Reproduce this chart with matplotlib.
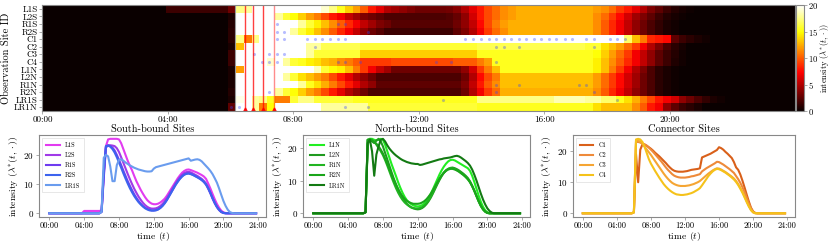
import matplotlib
matplotlib.use("Agg")
import matplotlib.pyplot as plt
import numpy as np

plt.rcParams['font.family'] = 'serif'
plt.rcParams['font.serif'] = ['cmr10']
plt.rcParams['mathtext.fontset'] = 'cm'
plt.rcParams['axes.unicode_minus'] = False
plt.rcParams['axes.formatter.use_mathtext'] = True

sites = ["L1S", "L2S", "R1S", "R2S", "C1", "C2", "C3", "C4",
         "L1N", "L2N", "R1N", "R2N", "LR1S", "LR1N"]

# ---------------- heatmap rows (97 time points, 00:00 .. 24:00 every 15 min)
def row(start, vals, n=97):
    return [0] * start + vals + [0] * (n - start - len(vals))

hm_L1S = row(16, [1.5] * 8 + [3, 17.5, 18] + [21] * 9 +
             [19, 17.5, 15.5, 13.5, 12, 10, 8, 6.5, 5, 4.5, 4, 3.5, 3, 3, 3, 3, 3.2, 3.8, 5, 6.5,
              8, 9.5, 10.5, 11.5, 12] + [12.5] * 10 +
             [12, 11.5, 10.5, 9, 8, 6.5, 5, 3.5, 2.5, 1.5, 0.8, 0.4, 0.2])
hm_L2S = row(24, [0.6] + [20] * 5 +
             [18, 16, 15, 13.5, 12, 11, 9.5, 8, 7, 5.5, 4.5, 3.5, 3, 2.5] + [2] * 8 +
             [2.2, 2.8, 4, 6, 8, 9.5, 10.5, 11.5, 12] + [12.5] * 10 +
             [11.5, 10.5, 9, 7.5, 6, 4.5, 3.5, 2.5, 1.5, 0.8, 0.4, 0.2])
hm_R1S = row(24, [0.8] + [21] * 8 +
             [18, 16, 14.5, 13, 11.5, 10, 8.5, 7, 5.5, 4.5, 3.5, 3] + [2.3] * 8 +
             [3, 4, 5.5, 7.5, 9.5, 11, 12] + [12.5] * 11 +
             [11.5, 10, 8.5, 7, 5.5, 4, 3, 2, 1.2, 0.6, 0.3])
hm_R2S = row(24, [1] + [21] * 7 +
             [18, 16, 14.5, 13, 11.5, 10, 8.5, 7, 5.5, 4, 3, 2.3] + [1.5] * 9 +
             [2.5, 3.5, 5, 7, 9, 10.5, 11.5] + [12.5] * 11 +
             [11.5, 10, 8.5, 7, 5.5, 4, 3, 2, 1.2, 0.6, 0.3])
hm_C1 = row(24, [1, 17.5, 11, 17.5] + [21] * 47 +
            [17, 13, 11, 8.5, 8, 7.5, 2.5, 1.5, 1, 0.6, 0.3])
hm_C2 = row(24, [0.5, 13] + [21] * 8 + [18, 18] + [16.5] * 5 + [16] * 15 + [16.5] * 14 +
            [16, 16, 14, 13, 12, 10.5, 9, 7, 5, 3.5, 2, 1, 0.4])
hm_C3 = row(24, [1.5] + [21] * 9 + [18] + [16] * 6 + [13.5] * 15 + [15.5] * 15 +
            [15, 13.5, 12, 10.5, 9, 7, 5.5, 4, 2.5, 1.5, 0.8, 0.3])
hm_C4 = row(24, [1.5, 21, 21, 21, 21, 19, 21, 18, 16, 15.5, 14.5, 14, 13, 12.5, 11.5, 11, 10] +
            [9] * 4 + [9.5] * 8 + [10] * 3 + [11, 12] + [15.5] * 13 +
            [14.5, 13, 11.5, 10, 8.5, 7, 5.5, 4, 2.5, 1.5, 0.7, 0.3])
hm_L1N = row(24, [0.5, 12] + [21] * 9 +
             [18.5, 16, 15, 14.5, 13, 11, 9, 7, 5.5, 4.5] + [3] * 9 +
             [4, 6, 9, 11, 13] + [15.5] * 12 +
             [14.5, 13, 11, 9, 7, 5, 3.5, 2, 1, 0.5, 0.2])
hm_L2N = row(24, [0.5] + [21] * 6 +
             [18, 16, 14, 13, 12, 11, 9.5, 8, 6.5, 5, 4, 3] + [2] * 11 +
             [3, 5, 7.5, 9.5, 11] + [13] * 12 +
             [12, 10.5, 9, 7.5, 6, 4.5, 3, 2, 1, 0.5, 0.2])
hm_R1N = row(24, [0.5] + [21] * 8 +
             [18, 15.5, 14, 12.5, 11, 9.5, 8, 6.5, 5, 4] + [2.5] * 11 +
             [3.5, 5.5, 8, 10, 11.5] + [13] * 12 +
             [12, 10.5, 9, 7.5, 6, 4.5, 3, 2, 1, 0.5, 0.2])
hm_R2N = row(24, [0.8] + [21] * 5 +
             [18, 16, 15, 13.5, 12, 11, 9.5, 8, 6.5, 5, 4, 3] + [2] * 12 +
             [3, 5, 7, 9, 10.5] + [12.5] * 12 +
             [11.5, 10, 8.5, 7, 5.5, 4, 3, 2, 1, 0.5, 0.2])
hm_LR1S = row(24, [0.5, 19.5, 20.5, 18, 17.5, 15.5, 11, 11, 16, 17.5, 17.5] + [16] * 5 +
              [15.5] * 16 + [17.5] * 10 + [18.5] * 4 + [18, 18, 17, 17] +
              [15.5, 14, 12.5, 11, 9.5, 8, 7, 6, 4, 3, 2, 1.2, 0.6, 0.3])
hm_LR1N = row(24, [2.5, 21, 21, 18, 11, 15] + [21] * 6 + [18] * 6 + [16] * 14 +
              [15.5] * 15 + [14, 13, 13, 13, 13, 11.5, 10, 8, 7, 4, 2.5, 1.5, 1, 0.5])

# observation markers (site row, time in hours)
obs_row = [2, 2, 2, 3, 3, 3] + [4] * 28 + [5] * 5 + [6] * 4 + [7] * 9 + \
          [10] * 4 + [11] * 3 + [12] * 2 + [13] * 4
obs_time = [7.48, 9.41, 9.66,
            7.48, 7.71, 10.37,
            7.48, 7.71, 8.44, 8.68, 8.92, 9.18, 9.41, 9.66, 13.49, 13.73, 13.99, 14.23,
            14.47, 14.71, 14.95, 15.19, 15.43, 15.67, 15.91, 16.16, 16.39, 16.65, 16.89,
            17.35, 17.58, 18.09, 18.33, 18.57,
            8.68, 14.47, 14.71, 15.19, 17.58,
            6.75, 7.24, 7.48, 7.71,
            7.0, 7.24, 7.48, 9.41, 9.66, 10.13, 12.55, 13.03, 14.47,
            14.47, 15.19, 17.10, 17.35,
            7.24, 14.47, 17.58,
            12.77, 18.33,
            6.01, 6.27, 9.66, 10.37]

event_times = [6.46, 6.70, 7.02, 7.38]
event_alpha = [0.75, 0.75, 0.75, 0.45]

# ---------------- line series (96 points, 00:00 .. 23:45 every 15 min)
def series(start, vals, n=96):
    return [0] * start + vals + [0] * (n - start - len(vals))

L1S = series(16, [0.8] * 8 + [1.0, 14, 23, 25.3, 25.5, 25.5, 25.5, 25.5, 25.3, 24, 22, 20, 18, 16.3,
                  14.7, 12.8, 11, 9.5, 8, 6.7, 5.5, 4.5, 3.8, 3.3, 3.1, 3.1, 3.3, 3.7, 4.3, 5, 6,
                  7.2, 8.4, 9.6, 10.8, 12, 13, 13.9, 14.5, 14.9, 15, 14.8, 14.5, 14.2, 13.9, 13.5,
                  13.1, 12.6, 11.8, 10.2, 8.5, 6.6, 4.8, 3.2, 1.9, 0.9, 0.3, 0.1])
L2S = series(24, [0.5, 12, 22.5, 23.3, 23.3, 23.2, 23, 22.3, 21, 19.2, 17.3, 15.4, 13.5, 11.7, 10,
                  8.4, 7, 5.7, 4.6, 3.6, 2.8, 2.2, 1.8, 1.6, 1.6, 1.7, 2, 2.5, 3.2, 4.1, 5.2, 6.4,
                  7.7, 9, 10.3, 11.4, 12.4, 13.2, 13.8, 14.1, 14.2, 14, 13.6, 13.2, 12.8, 12.3,
                  11.8, 11.1, 10.2, 8.8, 7.1, 5.3, 3.7, 2.3, 1.2, 0.5, 0.2])
R1S = series(24, [0.5, 13, 22.8, 23.2, 23, 22.5, 21.5, 20, 18.3, 16.5, 14.6, 12.8, 11, 9.4, 7.9,
                  6.5, 5.3, 4.2, 3.3, 2.5, 1.9, 1.5, 1.2, 1.0, 1.0, 1.1, 1.4, 1.9, 2.6, 3.5, 4.6,
                  5.9, 7.2, 8.5, 9.8, 10.9, 11.9, 12.7, 13.3, 13.6, 13.7, 13.5, 13.2, 12.8, 12.4,
                  11.9, 11.4, 10.7, 9.8, 8.4, 6.8, 5.0, 3.4, 2.1, 1.1, 0.4, 0.1])
R2S = series(24, [0.5, 14, 23, 23.2, 22.8, 22, 20.8, 19.2, 17.4, 15.6, 13.7, 11.9, 10.2, 8.6, 7.2,
                  5.9, 4.8, 3.8, 3.0, 2.3, 1.7, 1.3, 1.0, 0.9, 0.9, 1.0, 1.3, 1.8, 2.5, 3.4, 4.5,
                  5.8, 7.1, 8.4, 9.7, 10.8, 11.8, 12.6, 13.2, 13.5, 13.6, 13.4, 13.1, 12.7, 12.3,
                  11.9, 11.4, 10.8, 9.9, 8.6, 7.0, 5.2, 3.6, 2.2, 1.2, 0.5, 0.1])
LR1S = series(24, [0.5, 19, 20, 19.5, 16, 11, 11, 16.5, 18.3, 18.5, 18, 17.4, 16.9, 16.4, 16, 15.6,
                   15.3, 15, 14.8, 14.6, 14.4, 14.3, 14.3, 14.4, 15.3, 15.8, 16.0, 16.2, 16.4,
                   16.6, 16.8, 17.0, 17.2, 17.4, 17.6, 17.8, 18.0, 18.2, 18.4, 18.6, 18.8, 18.0,
                   18.2, 18.4, 18.5, 18.3, 17.8, 17.0, 16.2, 15.4, 14.5, 13.4, 12.0, 10.5, 8.5,
                   6.3, 4.2, 2.5, 1.2, 0.4, 0.1])

L1N = series(24, [0.3, 21, 22.8, 22.8, 22.5, 22.3, 22.5, 22.8, 22.5, 21, 19, 17, 15, 13.2, 11.4,
                  9.5, 7.8, 6.3, 5, 4, 3.3, 2.8, 2.4, 2.2, 2.1, 2.2, 2.5, 3.0, 3.8, 4.8, 6.0, 7.4,
                  8.9, 10.4, 11.9, 13.2, 14.3, 15.2, 15.9, 16.3, 16.4, 16.2, 15.8, 15.4, 15.0,
                  14.6, 14.2, 13.8, 13.0, 11.5, 9.6, 7.5, 5.4, 3.5, 2.0, 0.9, 0.3])
L2N = series(24, [0.3, 22.5, 22.5, 22, 21.5, 22.3, 22.8, 22, 20.5, 18.5, 16.5, 14.5, 12.5, 10.6,
                  8.9, 7.3, 5.9, 4.7, 3.7, 2.9, 2.3, 1.8, 1.5, 1.3, 1.2, 1.3, 1.6, 2.1, 2.8, 3.7,
                  4.8, 6.1, 7.5, 8.9, 10.2, 11.4, 12.4, 13.1, 13.6, 13.9, 14.0, 13.8, 13.5, 13.1,
                  12.6, 12.1, 11.5, 10.8, 9.8, 8.5, 7.0, 5.3, 3.7, 2.3, 1.2, 0.5, 0.1])
R1N = series(24, [0.3, 22.5, 22.8, 22.5, 22, 21, 20, 19, 17.8, 16.3, 14.6, 12.8, 11, 9.3, 7.7, 6.3,
                  5.1, 4.1, 3.3, 2.7, 2.2, 1.8, 1.6, 1.5, 1.5, 1.6, 1.9, 2.4, 3.1, 4.0, 5.1, 6.4,
                  7.8, 9.2, 10.5, 11.6, 12.5, 13.2, 13.6, 13.8, 13.8, 13.6, 13.2, 12.8, 12.3,
                  11.8, 11.2, 10.5, 9.6, 8.3, 6.8, 5.2, 3.6, 2.2, 1.2, 0.5, 0.1])
R2N = series(24, [0.3, 22.5, 22.5, 22.3, 21.8, 21.3, 20.5, 19.5, 18.3, 16.8, 15.2, 13.5, 11.8,
                  10.2, 8.7, 7.4, 6.2, 5.2, 4.4, 3.8, 3.4, 3.1, 2.9, 2.9, 2.9, 3.0, 3.3, 3.7, 4.3,
                  5.1, 6.0, 7.1, 8.3, 9.5, 10.6, 11.6, 12.4, 13.0, 13.4, 13.6, 13.6, 13.4, 13.1,
                  12.7, 12.2, 11.7, 11.1, 10.4, 9.5, 8.3, 6.9, 5.3, 3.7, 2.3, 1.2, 0.5, 0.1])
LR1N = series(24, [0.3, 21.5, 22.5, 19, 11.5, 18, 20.5, 22.5, 22.8, 22, 20.8, 19.8, 19, 18.3,
                   17.7, 17.2, 16.7, 16.3, 16.0, 15.7, 15.5, 15.3, 15.2, 15.1, 15.1, 14.8, 14.9,
                   15.1, 15.3, 15.5, 15.7, 15.9, 16.1, 16.3, 16.5, 16.6, 16.8, 16.9, 17.0, 17.1,
                   17.3, 17.5, 17.6, 17.4, 17.0, 16.5, 16.0, 15.4, 14.6, 13.4, 11.8, 10.0, 8.0,
                   6.0, 4.2, 2.7, 1.5, 0.7, 0.2])

C1 = series(24, [0.3, 19, 10, 20.5, 22.2, 22.2, 21.8, 21.3, 20.8, 20.2, 19.5, 18.9, 18.3, 17.6,
                 16.9, 16.2, 15.4, 14.7, 14.1, 13.7, 13.5, 13.4, 13.4, 13.4, 13.5, 13.6, 13.8,
                 14.0, 14.1, 14.2, 14.3, 14.5, 18.0, 18.3, 18.6, 18.9, 19.2, 19.6, 20.0, 20.4,
                 21.3, 21.0, 20.5, 19.8, 19.2, 18.5, 17.8, 16.5, 14.8, 14.0, 12.5, 10.5, 8.3,
                 6.0, 3.8, 1.8, 0.6, 0.1])
C2 = series(24, [0.3, 23, 23, 22.8, 22.5, 22.2, 21.8, 21.2, 20.5, 19.8, 19.0, 18.2, 17.4, 16.6,
                 15.7, 14.8, 14.0, 13.3, 12.6, 12.1, 11.8, 11.6, 11.5, 11.5, 11.5, 11.6, 11.7,
                 11.9, 12.0, 12.2, 12.4, 12.6, 13.5, 14.0, 14.5, 14.9, 15.3, 15.7, 16.1, 16.6,
                 16.5, 16.1, 15.7, 15.2, 14.7, 14.2, 13.6, 13.0, 12.0, 11.0, 9.8, 8.4, 6.8, 5.0,
                 3.2, 1.6, 0.5, 0.1])
C3 = series(24, [0.3, 23.5, 23.5, 23.0, 22.3, 21.5, 20.6, 19.7, 18.8, 17.8, 16.8, 15.8, 14.8,
                 13.8, 12.8, 11.9, 11.1, 10.4, 9.8, 9.4, 9.1, 8.9, 8.8, 8.8, 8.8, 8.9, 9.0, 9.2,
                 9.4, 9.7, 10.0, 10.4, 11.0, 11.6, 12.2, 12.8, 13.3, 13.8, 14.2, 14.5, 14.4,
                 14.1, 13.7, 13.3, 12.8, 12.3, 11.8, 11.2, 10.4, 9.4, 8.2, 6.9, 5.4, 3.8, 2.3,
                 1.1, 0.3])
C4 = series(24, [0.3, 23.8, 24.0, 23.8, 23.0, 21.5, 19.5, 17.5, 16.0, 14.8, 13.6, 12.5, 11.4,
                 10.4, 9.4, 8.6, 7.9, 7.3, 6.8, 6.4, 6.1, 6.0, 5.9, 5.9, 6.0, 6.1, 6.3, 6.5, 6.8,
                 7.2, 7.6, 8.1, 9.0, 10.0, 11.0, 12.0, 12.8, 13.5, 14.0, 14.3, 14.2, 13.9, 13.5,
                 13.1, 12.6, 12.1, 11.5, 10.9, 10.1, 9.1, 7.9, 6.6, 5.1, 3.6, 2.2, 1.0, 0.3])

south_names = ["L1S", "L2S", "R1S", "R2S", "LR1S"]
north_names = ["L1N", "L2N", "R1N", "R2N", "LR1N"]
conn_names = ["C1", "C2", "C3", "C4"]
south_colors = ["#e23cf0", "#a13ae8", "#6f3cf0", "#3d63ee", "#6a9cee"]
north_colors = ["#22ee22", "#1f9a1f", "#22b422", "#1aa51a", "#137a13"]
conn_colors = ["#d9601a", "#ee8a3a", "#f5a533", "#f5c21a"]

hours = np.arange(96) * 0.25
hour_ticks = [0, 4, 8, 12, 16, 20, 24]
hour_labels = ["%02d:00" % h for h in hour_ticks]
frame = "#888888"

fig = plt.figure(figsize=(8.3, 2.43), dpi=100)

# ---------------- heatmap
ax = fig.add_axes([0.0512, 0.543, 0.9066, 0.436])
heat = np.array([hm_L1S, hm_L2S, hm_R1S, hm_R2S, hm_C1, hm_C2, hm_C3, hm_C4,
                 hm_L1N, hm_L2N, hm_R1N, hm_R2N, hm_LR1S, hm_LR1N])
im = ax.imshow(heat, cmap="hot", vmin=0, vmax=20, aspect="auto",
               extent=[0, 24, len(sites), 0], interpolation="nearest")
ax.axvline(6.14, color="#999999", lw=0.8)
for t, a in zip(event_times, event_alpha):
    ax.axvline(t, color="red", lw=1.0, alpha=a)
    ax.plot(t, 13.8, marker="^", color="red", ms=3.5, alpha=0.9)
ax.scatter(obs_time, np.array(obs_row) + 0.5, s=5, color="#3344ff", alpha=0.35, lw=0)
ax.set_xlim(0, 24)
ax.set_ylim(len(sites), 0)
ax.set_yticks(np.arange(len(sites)) + 0.5)
ax.set_yticklabels(sites, fontsize=6.5)
ax.set_xticks(hour_ticks[:-1])
ax.set_xticklabels(hour_labels[:-1], fontsize=6.5)
ax.set_ylabel("Observation Site ID", fontsize=7.5, labelpad=2)
ax.tick_params(length=2, width=0.5, color=frame, pad=1.5)
for s in ax.spines.values():
    s.set_color(frame)

cax = fig.add_axes([0.9590, 0.543, 0.0096, 0.436])
cb = fig.colorbar(im, cax=cax)
cb.set_ticks([0, 5, 10, 15, 20])
cb.ax.tick_params(labelsize=6.2, length=2, width=0.5, color=frame, pad=1)
cb.outline.set_edgecolor(frame)
cb.set_label(r"intensity $(\lambda^{*}(t,\cdot))$", fontsize=6, labelpad=0)

# ---------------- line panels
panels = [
    ([0.047, 0.107, 0.274, 0.337], "South-bound Sites", south_names, [L1S, L2S, R1S, R2S, LR1S], south_colors),
    ([0.365, 0.107, 0.274, 0.337], "North-bound Sites", north_names, [L1N, L2N, R1N, R2N, LR1N], north_colors),
    ([0.690, 0.107, 0.268, 0.337], "Connector Sites", conn_names, [C1, C2, C3, C4], conn_colors),
]
for rect, title, names, data, cols in panels:
    a = fig.add_axes(rect)
    for name, vals, c in zip(names, data, cols):
        a.plot(hours, vals, color=c, lw=1.5, label=name)
    a.set_xticks(hour_ticks)
    a.set_xticklabels(hour_labels, fontsize=6)
    a.tick_params(axis="y", labelsize=6.5)
    a.tick_params(length=2, width=0.5, color=frame, pad=1.5)
    a.set_title(title, fontsize=7.5, pad=2)
    a.set_xlabel(r"time $(t)$", fontsize=7, labelpad=0)
    a.set_ylabel(r"intensity $(\lambda^{*}(t,\cdot))$", fontsize=7, labelpad=2)
    for s in a.spines.values():
        s.set_color(frame)
    leg = a.legend(loc="upper left", fontsize=4.5, handlelength=2.2, labelspacing=0.7,
                   borderpad=0.6, framealpha=1, fancybox=False)
    leg.get_frame().set_edgecolor("#dddddd")
    leg.get_frame().set_linewidth(0.5)

fig.savefig("out.png", dpi=100)
